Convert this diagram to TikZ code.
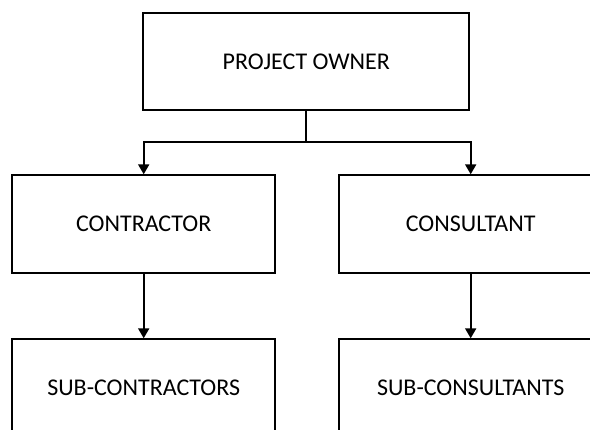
\documentclass[tikz,border=0pt]{standalone}
\usepackage{fontspec}
\setmainfont{Carlito}
\usetikzlibrary{arrows.meta}
\begin{document}
\begin{tikzpicture}[x=1pt,y=-1pt,
  orgbox/.style={draw=black, line width=2pt, fill=white, minimum width=263pt,
    minimum height=97.4pt, inner sep=0pt, font=\fontsize{24}{28}\selectfont},
  topbox/.style={orgbox, minimum width=326pt},
  link/.style={line width=2pt, -{Triangle[length=10pt,width=11pt]}}]
  \useasboundingbox (0,0) rectangle (590,430);
  \clip (0,0) rectangle (590,430);
  \node[topbox] (owner) at (306.3,61.4) {PROJECT OWNER};
  \node[orgbox] (contractor) at (143.7,224) {CONTRACTOR};
  \node[orgbox] (consultant) at (470.7,224) {CONSULTANT};
  \node[orgbox, anchor=north] (subcontractors) at (143.7,338.3) {SUB-CONTRACTORS};
  \node[orgbox, anchor=north] (subconsultants) at (470.7,338.3) {SUB-CONSULTANTS};
  % branching from the owner to both parties
  \coordinate (split) at (306.3,142.3);
  \draw[line width=2pt] (owner.south) -- (split);
  \draw[link] (split) -| (contractor.north);
  \draw[link] (split) -| (consultant.north);
  % each party down to its sub-tier
  \draw[link] (contractor.south) -- (subcontractors.north);
  \draw[link] (consultant.south) -- (subconsultants.north);
\end{tikzpicture}
\end{document}
